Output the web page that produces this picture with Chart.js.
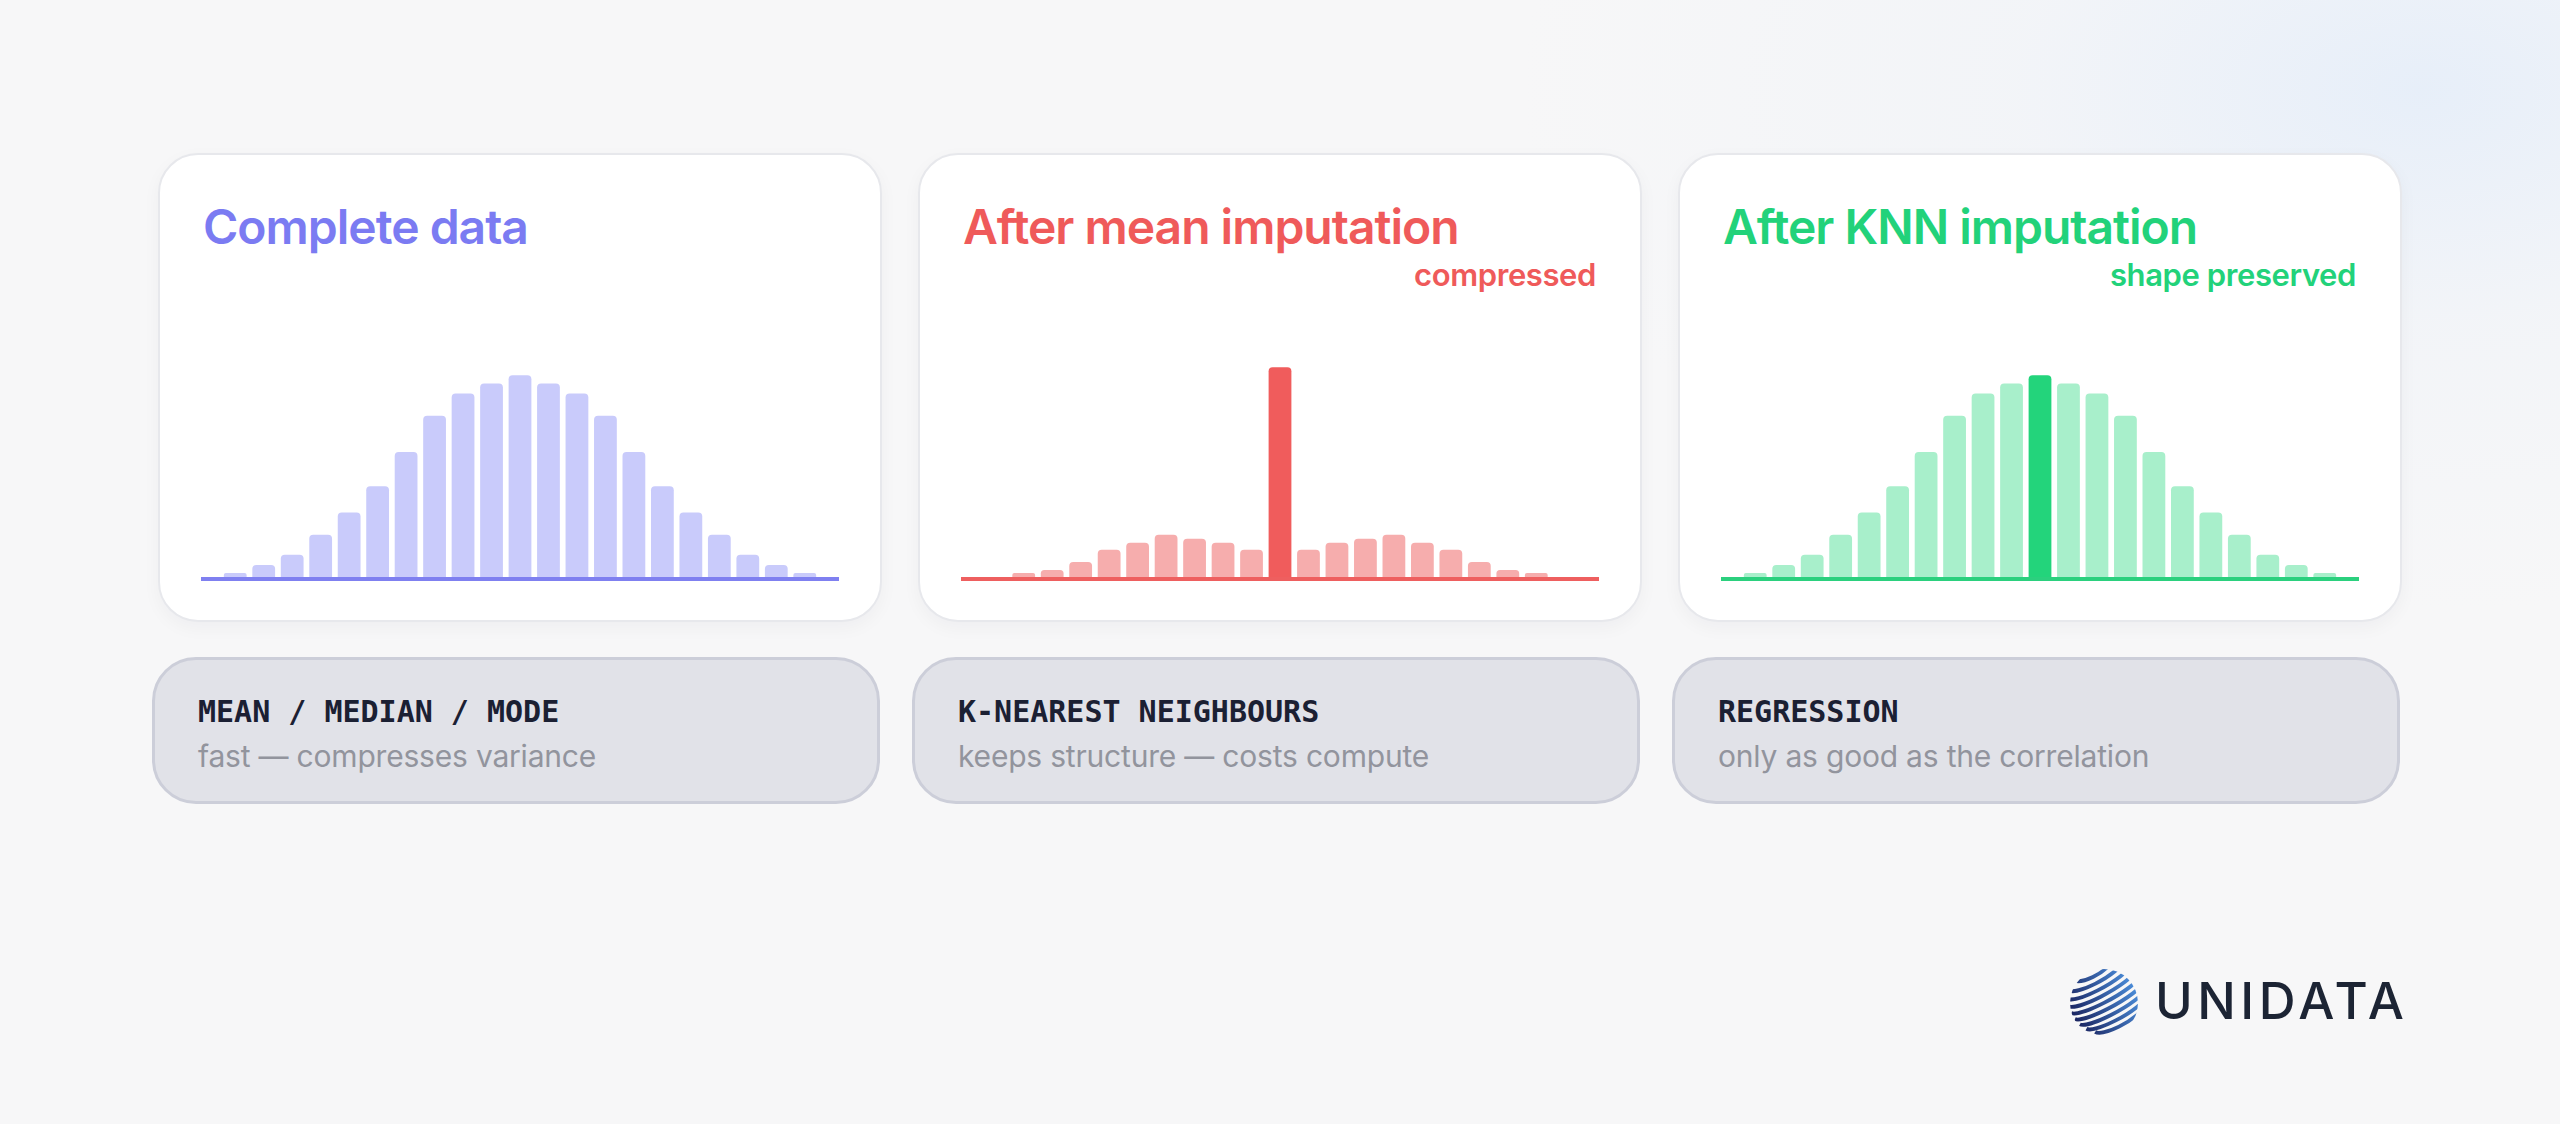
<!DOCTYPE html>
<html>
<head>
<meta charset="utf-8">
<script src="https://cdn.jsdelivr.net/npm/chart.js@4.4.0/dist/chart.umd.min.js"></script>
<style>
  html, body { margin: 0; padding: 0; }
  body {
    width: 2560px; height: 1124px; position: relative; overflow: hidden;
    background: radial-gradient(ellipse 900px 520px at 2420px 90px, rgba(228,237,249,0.85) 0, rgba(238,242,248,0.5) 45%, rgba(247,247,248,0) 100%), #f7f7f8;
    font-family: Inter, "Noto Sans", sans-serif;
  }
  .card {
    position: absolute; top: 153px; width: 724px; height: 469px; box-sizing: border-box;
    background: #fff; border: 2px solid #e7e8ec; border-radius: 40px;
    box-shadow: 0 6px 18px rgba(20,30,60,0.04);
  }
  .title { position: absolute; left: 43px; top: 48px; font-size: 48px; line-height: 48px; font-weight: 600; letter-spacing: -1px; white-space: nowrap; }
  .note { position: absolute; right: 44px; top: 104px; font-size: 31px; line-height: 31px; font-weight: 600; letter-spacing: -0.4px; white-space: nowrap; }
  .card canvas { position: absolute; left: 41px; top: 174px; }
  .box {
    position: absolute; top: 657px; width: 728px; height: 147px; box-sizing: border-box;
    background: #e1e2e8; border: 3px solid #ccced9; border-radius: 44px;
  }
  .label { position: absolute; left: 43px; top: 37px; font-family: "DejaVu Sans Mono", monospace; font-weight: bold; font-size: 30px; line-height: 30px; color: #1b2033; white-space: nowrap; }
  .desc { position: absolute; left: 43px; top: 81px; font-size: 30px; line-height: 30px; letter-spacing: -0.2px; color: #92949d; white-space: nowrap; }
  #logo-globe { position: absolute; left: 2068px; top: 967px; }
  #logo-text { position: absolute; left: 2155px; top: 975px; font-size: 51px; line-height: 51px; font-weight: 500; letter-spacing: 4.5px; color: #1c2434; }
</style>
</head>
<body>

<div class="card" style="left:158px">
  <div class="title" style="color:#7b7bf2">Complete data</div>
  <canvas id="c1" width="638" height="252"></canvas>
</div>
<div class="card" style="left:918px">
  <div class="title" style="color:#ef5a5a">After mean imputation</div>
  <div class="note" style="color:#ef5a5a">compressed</div>
  <canvas id="c2" width="638" height="252"></canvas>
</div>
<div class="card" style="left:1678px">
  <div class="title" style="color:#22d27a">After KNN imputation</div>
  <div class="note" style="color:#22d27a">shape preserved</div>
  <canvas id="c3" width="638" height="252"></canvas>
</div>

<div class="box" style="left:152px">
  <div class="label">MEAN / MEDIAN / MODE</div>
  <div class="desc">fast — compresses variance</div>
</div>
<div class="box" style="left:912px">
  <div class="label">K-NEAREST NEIGHBOURS</div>
  <div class="desc">keeps structure — costs compute</div>
</div>
<div class="box" style="left:1672px">
  <div class="label">REGRESSION</div>
  <div class="desc">only as good as the correlation</div>
</div>

<canvas id="logo-globe" width="72" height="72"></canvas>
<div id="logo-text">UNIDATA</div>

<script>
// histogram bins (centre bin = mean)
const bins = ["-10", "-9", "-8", "-7", "-6", "-5", "-4", "-3", "-2", "-1", "0",
  "1", "2", "3", "4", "5", "6", "7", "8", "9", "10"];

const completeValues = [2, 6, 11, 21, 32, 45, 62, 80, 91, 96, 100, 96, 91, 80, 62, 45, 32, 21, 11, 6, 2];
const meanValues = [0, 2, 3.5, 7.5, 13.5, 17, 21, 19, 17, 13.5, 104, 13.5, 17, 19, 21, 17, 13.5, 7.5, 3.5, 2, 0];
const knnValues = [2, 6, 11, 21, 32, 45, 62, 80, 91, 96, 100, 96, 91, 80, 62, 45, 32, 21, 11, 6, 2];

const highlightBin = "0";

// draws the baseline under the bars, wider than the plot area
const baseline = {
  id: "baseline",
  afterDatasetsDraw(chart, args, opts) {
    const c = chart.ctx;
    c.save();
    c.fillStyle = opts.color;
    c.fillRect(0, chart.chartArea.bottom, chart.width, 4);
    c.restore();
  }
};

function makeChart(id, values, light, strong, line, highlight) {
  const colors = bins.map(b => (highlight && b === highlightBin) ? strong : light);
  return new Chart(document.getElementById(id), {
    type: "bar",
    data: {
      labels: bins,
      datasets: [{
        data: values,
        backgroundColor: colors,
        borderRadius: 4,
        barPercentage: 0.8,
        categoryPercentage: 1.0
      }]
    },
    options: {
      responsive: false,
      animation: false,
      layout: { padding: { left: 20, right: 20, top: 0, bottom: 4 } },
      plugins: { legend: { display: false }, tooltip: { enabled: false }, baseline: { color: line } },
      scales: {
        x: { display: false },
        y: { display: false, min: 0, max: 123 }
      }
    },
    plugins: [baseline]
  });
}

makeChart("c1", completeValues, "#c9cbfb", "#c9cbfb", "#7f80f0", false);
makeChart("c2", meanValues, "#f6adad", "#f05c5c", "#ee5f5f", true);
makeChart("c3", knnValues, "#a8efcb", "#23d47b", "#2bd07e", true);

// logo globe
const g = document.getElementById("logo-globe").getContext("2d");
g.save();
g.beginPath();
g.arc(36, 36, 34, 0, Math.PI * 2);
g.clip();
g.translate(36, 36);
g.rotate(-0.5);
const grad = g.createLinearGradient(-34, 0, 34, 0);
grad.addColorStop(0, "#1a2460");
grad.addColorStop(1, "#4a8ad6");
g.strokeStyle = grad;
g.lineWidth = 3.8;
for (let y = -30; y <= 32; y += 7) {
  const w = Math.sqrt(Math.max(0, 34 * 34 - y * y));
  g.beginPath();
  g.ellipse(6, y - 6, w + 6, 8, 0, 0.15, Math.PI - 0.15);
  g.stroke();
}
g.restore();
</script>
</body>
</html>
